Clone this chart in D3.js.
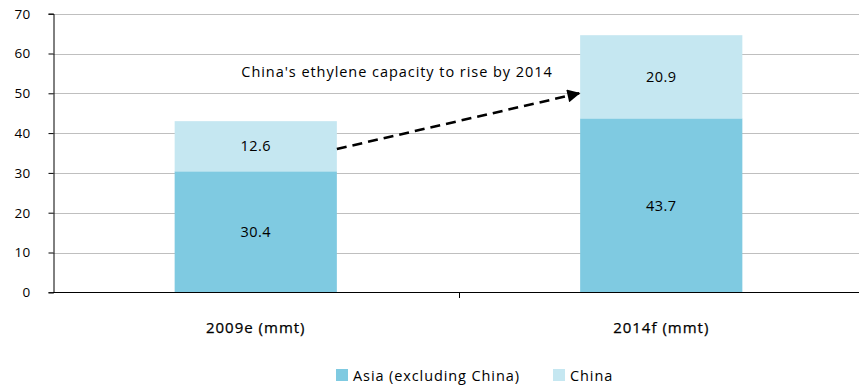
<!DOCTYPE html>
<html>
<head>
<meta charset="utf-8">
<script src="https://cdn.jsdelivr.net/npm/d3@7"></script>
<style>
  html, body { margin: 0; padding: 0; background: #fff; }
  svg { display: block; }
  text { font-family: "Open Sans", sans-serif; fill: #000; }
</style>
</head>
<body>
<svg id="chart" width="859" height="387"></svg>
<script>
// Ethylene capacity, million metric tonnes
const categories = ["2009e (mmt)", "2014f (mmt)"];
const asiaExChina = [30.4, 43.7];
const china = [12.6, 20.9];
const seriesNames = ["Asia (excluding China)", "China"];
const yTicks = [0, 10, 20, 30, 40, 50, 60, 70];
const annotation = "China's ethylene capacity to rise by 2014";
// arrow runs from the 2009 China segment up to the 2014 China segment
const arrowValues = [36, 50];

const colors = ["#7fcae1", "#c5e7f1"];

const svg = d3.select("#chart");
const x0 = 53, x1 = 864, yTop = 13.7, yBottom = 292.3;

const x = d3.scaleBand().domain(categories).range([x0, x1]).paddingInner(0).paddingOuter(0);
const barW = x.bandwidth() * 0.4;
const y = d3.scaleLinear().domain([0, 70]).range([yBottom, yTop]);

// gridlines
svg.append("g")
  .selectAll("line")
  .data(yTicks.filter(d => d > 0))
  .join("line")
  .attr("x1", x0).attr("x2", x1)
  .attr("y1", d => Math.round(y(d)) + 0.5)
  .attr("y2", d => Math.round(y(d)) + 0.5)
  .attr("stroke", "#bfbfbf")
  .attr("stroke-width", 1);

// stacked bars with value labels centred in each segment
const rows = categories.map((c, i) => ({ cat: c, vals: [asiaExChina[i], china[i]] }));
rows.forEach(r => {
  let base = 0;
  r.vals.forEach((v, k) => {
    const cx = x(r.cat) + x.bandwidth() / 2;
    svg.append("rect")
      .attr("x", cx - barW / 2)
      .attr("width", barW)
      .attr("y", y(base + v))
      .attr("height", y(base) - y(base + v))
      .attr("fill", colors[k]);
    svg.append("text")
      .attr("x", cx)
      .attr("y", y(base + v / 2))
      .attr("dy", "0.36em")
      .attr("text-anchor", "middle")
      .attr("font-size", 14.5)
      .attr("letter-spacing", 0.4)
      .text(v.toFixed(1));
    base += v;
  });
});

// y axis
const yAxis = d3.axisLeft(y).tickValues(yTicks).tickSize(5).tickPadding(18).tickFormat(d3.format("d"));
const gy = svg.append("g").attr("transform", `translate(${x0 + 0.5},0)`).call(yAxis);
gy.select(".domain").attr("stroke", "#000");
gy.selectAll(".tick line").attr("stroke", "#000");
gy.selectAll(".tick text").attr("font-size", 13.5).attr("font-family", null).attr("fill", "#000")
  .attr("letter-spacing", 0.3);

// x axis baseline with a tick between categories
const gx = svg.append("g");
gx.append("line")
  .attr("x1", x0).attr("x2", x1)
  .attr("y1", Math.round(yBottom) + 0.5).attr("y2", Math.round(yBottom) + 0.5)
  .attr("stroke", "#000");
gx.selectAll("line.tk")
  .data(categories.slice(1))
  .join("line")
  .attr("class", "tk")
  .attr("x1", d => Math.round(x(d)) + 0.5).attr("x2", d => Math.round(x(d)) + 0.5)
  .attr("y1", Math.round(yBottom)).attr("y2", Math.round(yBottom) + 6)
  .attr("stroke", "#000");
gx.selectAll("text")
  .data(categories)
  .join("text")
  .attr("x", d => x(d) + x.bandwidth() / 2)
  .attr("y", 333)
  .attr("text-anchor", "middle")
  .attr("font-size", 15)
  .attr("letter-spacing", 1)
  .attr("stroke", "#000")
  .attr("stroke-width", 0.25)
  .text(d => d);

// dashed arrow
const defs = svg.append("defs");
defs.append("marker")
  .attr("id", "head")
  .attr("viewBox", "0 0 10 10")
  .attr("refX", 9).attr("refY", 5)
  .attr("markerWidth", 6).attr("markerHeight", 5)
  .attr("markerUnits", "strokeWidth")
  .attr("orient", "auto")
  .append("path").attr("d", "M0,0 L10,5 L0,10 Z").attr("fill", "#000");

const ax1 = x(categories[0]) + x.bandwidth() / 2 + barW / 2;
const ax2 = x(categories[1]) + x.bandwidth() / 2 - barW / 2;
svg.append("line")
  .attr("x1", ax1).attr("y1", y(arrowValues[0]))
  .attr("x2", ax2 - 1).attr("y2", y(arrowValues[1]))
  .attr("stroke", "#000")
  .attr("stroke-width", 2.6)
  .attr("stroke-dasharray", "10,6")
  .attr("marker-end", "url(#head)");

svg.append("text")
  .attr("x", 397)
  .attr("y", 77)
  .attr("text-anchor", "middle")
  .attr("font-size", 14.5)
  .attr("letter-spacing", 0.95)
  .text(annotation);

// legend
const legendX = [336, 553];
const lg = svg.append("g");
seriesNames.forEach((n, i) => {
  lg.append("rect")
    .attr("x", legendX[i]).attr("y", 369)
    .attr("width", 12).attr("height", 12)
    .attr("fill", colors[i]);
  lg.append("text")
    .attr("x", legendX[i] + 17).attr("y", 381)
    .attr("font-size", 14.5)
    .attr("letter-spacing", 0.9)
    .text(n);
});
</script>
</body>
</html>
